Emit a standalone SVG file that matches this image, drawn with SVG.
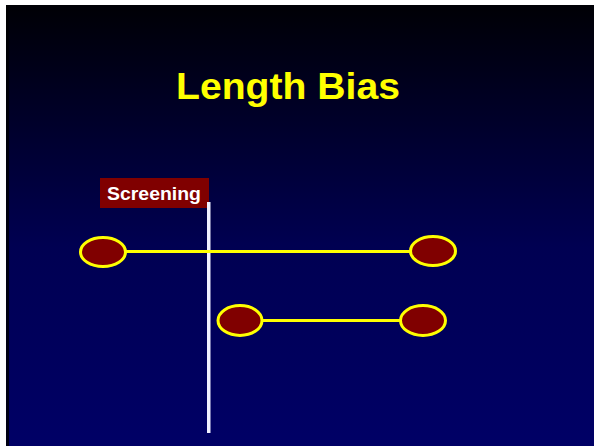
<svg xmlns="http://www.w3.org/2000/svg" width="594" height="446" viewBox="0 0 594 446">
  <defs>
    <linearGradient id="bg" x1="0" y1="0" x2="0" y2="1">
      <stop offset="0" stop-color="#000005"/>
      <stop offset="0.55" stop-color="#000052"/>
      <stop offset="1" stop-color="#000066"/>
    </linearGradient>
    <style>
      .dot { fill: #800000; stroke: #ffff00; stroke-width: 3; }
      .bar { stroke: #ffff00; stroke-width: 3; fill: none; }
      .title { font-family: "Liberation Sans", Arial, sans-serif; font-weight: bold; fill: #ffff00; }
      .lbl { font-family: "Liberation Sans", Arial, sans-serif; font-weight: bold; fill: #ffffff; }
    </style>
  </defs>
  <rect x="0" y="0" width="594" height="446" fill="#ffffff"/>
  <rect x="6" y="5" width="588" height="441" fill="url(#bg)"/>
  <rect x="6" y="5" width="3" height="441" fill="#000000" opacity="0.8"/>
  <text class="title" x="288" y="99" font-size="37" text-anchor="middle" textLength="224" lengthAdjust="spacingAndGlyphs">Length Bias</text>
  <g id="screening">
    <rect x="100" y="178" width="109" height="30" fill="#800000"/>
    <text class="lbl" x="154" y="200" font-size="19" text-anchor="middle" textLength="94" lengthAdjust="spacingAndGlyphs">Screening</text>
    <rect x="207" y="202" width="3.5" height="231" fill="#f0f0ff"/>
  </g>
  <g id="connectors">
    <line class="bar" x1="125" y1="251.5" x2="411" y2="251.5"/>
    <line class="bar" x1="262" y1="320.5" x2="401" y2="320.5"/>
  </g>
  <g id="case1-start"><ellipse class="dot" cx="103" cy="252" rx="22.5" ry="14.5"/></g>
  <g id="case1-end"><ellipse class="dot" cx="433" cy="251" rx="22.5" ry="14.5"/></g>
  <g id="case2-start"><ellipse class="dot" cx="240" cy="320.5" rx="22" ry="15"/></g>
  <g id="case2-end"><ellipse class="dot" cx="423" cy="320.5" rx="22.5" ry="15"/></g>
</svg>
